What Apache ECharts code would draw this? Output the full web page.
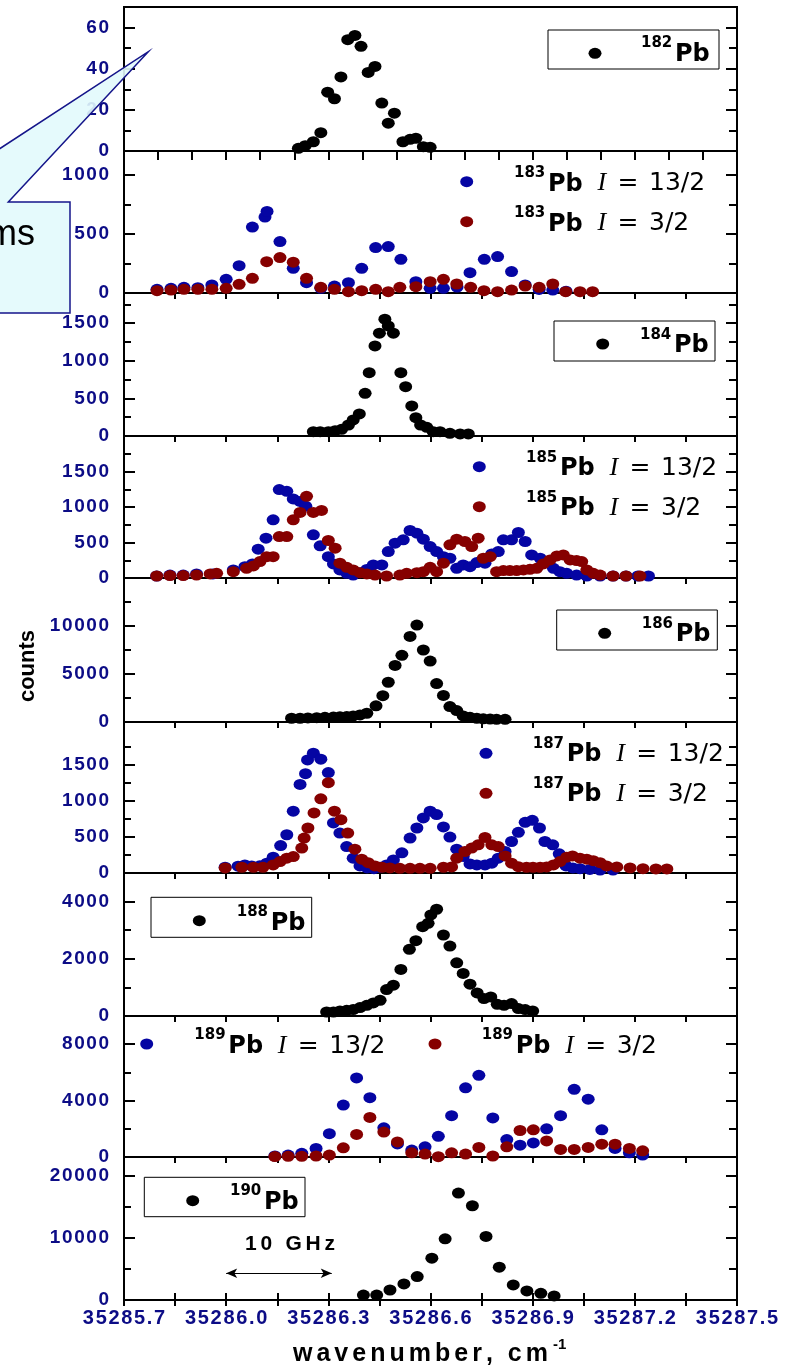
<!DOCTYPE html>
<html>
<head>
<meta charset="utf-8">
<script src="https://cdn.jsdelivr.net/npm/echarts@6/dist/echarts.min.js"></script>
<style>
  html, body { margin: 0; padding: 0; background: #fff; }
  #chart { width: 794px; height: 1368px; }
</style>
</head>
<body>
<div id="chart"></div>
<script>
// ---- shared wavenumber axis (cm^-1) ----
const xMin = 35285.7;
const xMax = 35287.5;
const xTickStep = 0.3;

// ---- 182Pb ----
const x182 = [35286.212, 35286.232, 35286.256, 35286.278, 35286.298, 35286.318, 35286.337, 35286.357, 35286.378, 35286.396,
              35286.417, 35286.437, 35286.457, 35286.476, 35286.494, 35286.519, 35286.540, 35286.557, 35286.579, 35286.599];
const y182 = [1.3, 2.6, 4.5, 8.9, 28.6, 25.4, 36, 54.1, 56.2, 50.9, 38.2, 41.1, 23.3, 13.5, 18.4, 4.5, 5.7, 6.2, 2.1, 1.8];

// ---- 183Pb, I = 13/2 (blue) and I = 3/2 (red) ----
const x183a = [35285.797, 35285.838, 35285.876, 35285.917, 35285.958, 35286.000, 35286.038, 35286.077, 35286.114, 35286.120,
               35286.158, 35286.197, 35286.236, 35286.278, 35286.318, 35286.359, 35286.398, 35286.439, 35286.476, 35286.513,
               35286.557, 35286.599, 35286.638, 35286.678, 35286.716, 35286.758, 35286.797, 35286.838, 35286.878, 35286.919,
               35286.959, 35286.998];
const y183a = [31, 40, 48, 45, 68, 116, 231, 557, 642, 689, 435, 209, 87, 40, 59, 87, 209, 384, 392, 285,
               96, 40, 40, 50, 172, 285, 308, 181, 68, 30, 25, 15];
const x183b = [35285.797, 35285.838, 35285.876, 35285.917, 35285.958, 35286.000, 35286.038, 35286.077, 35286.119, 35286.158,
               35286.197, 35286.236, 35286.278, 35286.318, 35286.359, 35286.398, 35286.439, 35286.476, 35286.510, 35286.557,
               35286.599, 35286.638, 35286.677, 35286.718, 35286.757, 35286.797, 35286.838, 35286.878, 35286.919, 35286.959,
               35286.997, 35287.039, 35287.076];
const y183b = [20, 25, 31, 31, 31, 40, 73, 124, 265, 299, 260, 124, 48, 31, 11, 20, 31, 11, 48, 53,
               96, 116, 76, 48, 20, 11, 25, 59, 48, 76, 11, 11, 11];

// ---- 184Pb ----
const x184 = [35286.256, 35286.276, 35286.300, 35286.320, 35286.339, 35286.359, 35286.373, 35286.391, 35286.408, 35286.420,
              35286.437, 35286.450, 35286.466, 35286.476, 35286.491, 35286.513, 35286.527, 35286.545, 35286.557, 35286.571,
              35286.589, 35286.608, 35286.628, 35286.657, 35286.687, 35286.711];
const y184 = [57, 57, 57, 71, 89, 146, 213, 293, 567, 842, 1197, 1366, 1552, 1463, 1366, 842, 656, 399, 243, 146,
              116, 57, 57, 36, 27, 27];

// ---- 185Pb ----
const x185a = [35285.796, 35285.835, 35285.874, 35285.913, 35285.961, 35286.021, 35286.055, 35286.077, 35286.094, 35286.117,
               35286.138, 35286.156, 35286.178, 35286.197, 35286.217, 35286.234, 35286.256, 35286.276, 35286.300, 35286.315,
               35286.334, 35286.354, 35286.373, 35286.393, 35286.413, 35286.432, 35286.457, 35286.476, 35286.496, 35286.520,
               35286.540, 35286.560, 35286.579, 35286.599, 35286.618, 35286.638, 35286.657, 35286.677, 35286.696, 35286.716,
               35286.736, 35286.760, 35286.780, 35286.799, 35286.814, 35286.838, 35286.858, 35286.878, 35286.897, 35286.922,
               35286.941, 35286.961, 35286.980, 35287.000, 35287.029, 35287.059, 35287.098, 35287.136, 35287.174, 35287.209,
               35287.240];
const y185a = [28, 42, 42, 57, 57, 113, 160, 198, 406, 561, 820, 1245, 1221, 1113, 1079, 1009, 608, 453, 301, 198,
               113, 66, 42, 75, 120, 184, 184, 372, 491, 537, 669, 632, 547, 443, 372, 300, 278, 137, 184, 160,
               217, 208, 339, 372, 537, 537, 641, 514, 325, 278, 231, 137, 89, 66, 42, 28, 28, 28, 28, 28,
               28];
const x185b = [35285.796, 35285.835, 35285.874, 35285.913, 35285.953, 35285.972, 35286.021, 35286.060, 35286.080, 35286.099,
               35286.119, 35286.138, 35286.156, 35286.178, 35286.197, 35286.217, 35286.236, 35286.256, 35286.280, 35286.300,
               35286.320, 35286.334, 35286.354, 35286.373, 35286.393, 35286.413, 35286.437, 35286.471, 35286.510, 35286.530,
               35286.560, 35286.579, 35286.599, 35286.618, 35286.638, 35286.657, 35286.677, 35286.701, 35286.721, 35286.740,
               35286.755, 35286.775, 35286.794, 35286.814, 35286.833, 35286.853, 35286.873, 35286.892, 35286.912, 35286.931,
               35286.951, 35286.971, 35286.990, 35287.010, 35287.029, 35287.044, 35287.059, 35287.078, 35287.098, 35287.136,
               35287.174, 35287.215];
const y185b = [28, 35, 35, 42, 57, 66, 89, 137, 170, 231, 301, 301, 584, 584, 820, 924, 1150, 924, 952, 528,
               420, 208, 151, 113, 75, 57, 42, 28, 42, 66, 75, 89, 151, 89, 208, 467, 547, 514, 443, 561,
               278, 301, 89, 104, 104, 104, 113, 122, 137, 198, 255, 311, 325, 255, 245, 231, 113, 66, 42, 28,
               28, 28];

// ---- 186Pb ----
const x186 = [35286.192, 35286.217, 35286.240, 35286.266, 35286.290, 35286.315, 35286.334, 35286.354, 35286.373, 35286.393,
              35286.413, 35286.440, 35286.460, 35286.476, 35286.496, 35286.516, 35286.540, 35286.560, 35286.579, 35286.599,
              35286.618, 35286.638, 35286.657, 35286.677, 35286.696, 35286.716, 35286.736, 35286.755, 35286.775, 35286.794,
              35286.819];
const y186 = [390, 390, 420, 450, 490, 510, 540, 560, 630, 740, 910, 1680, 2740, 4140, 5890, 6950, 8910, 10100, 7500, 6350,
              4000, 2770, 1610, 1190, 630, 490, 390, 330, 300, 280, 280];

// ---- 187Pb ----
const x187a = [35285.997, 35286.035, 35286.055, 35286.075, 35286.099, 35286.119, 35286.138, 35286.160, 35286.178, 35286.197,
               35286.217, 35286.233, 35286.239, 35286.256, 35286.278, 35286.300, 35286.315, 35286.334, 35286.354, 35286.373,
               35286.393, 35286.414, 35286.434, 35286.452, 35286.471, 35286.491, 35286.516, 35286.540, 35286.560, 35286.579,
               35286.599, 35286.618, 35286.638, 35286.657, 35286.677, 35286.696, 35286.716, 35286.736, 35286.760, 35286.780,
               35286.799, 35286.819, 35286.838, 35286.858, 35286.878, 35286.899, 35286.920, 35286.936, 35286.959, 35286.978,
               35286.998, 35287.018, 35287.039, 35287.068, 35287.098, 35287.136];
const y187a = [80, 95, 112, 98, 100, 136, 220, 382, 532, 859, 1232, 1382, 1573, 1667, 1583, 1396, 696, 556, 368, 206,
               98, 70, 60, 80, 112, 182, 280, 486, 626, 766, 859, 812, 640, 500, 332, 230, 126, 112, 112, 136,
               206, 300, 438, 565, 705, 733, 626, 438, 392, 266, 98, 70, 60, 50, 40, 40];
const x187b = [35285.997, 35286.046, 35286.080, 35286.108, 35286.138, 35286.158, 35286.178, 35286.197, 35286.222, 35286.229,
               35286.240, 35286.258, 35286.278, 35286.300, 35286.318, 35286.337, 35286.357, 35286.378, 35286.398, 35286.417,
               35286.437, 35286.457, 35286.481, 35286.510, 35286.540, 35286.569, 35286.599, 35286.638, 35286.662, 35286.677,
               35286.701, 35286.721, 35286.740, 35286.760, 35286.780, 35286.799, 35286.819, 35286.838, 35286.858, 35286.882,
               35286.901, 35286.922, 35286.941, 35286.961, 35286.980, 35287.000, 35287.017, 35287.039, 35287.059, 35287.078,
               35287.098, 35287.117, 35287.147, 35287.186, 35287.224, 35287.262, 35287.294];
const y187b = [70, 80, 80, 80, 112, 159, 206, 229, 346, 486, 626, 836, 1032, 1256, 859, 742, 556, 332, 192, 144,
               98, 80, 70, 65, 65, 65, 65, 80, 84, 206, 299, 346, 392, 495, 392, 368, 238, 136, 88, 80,
               80, 80, 84, 112, 159, 220, 238, 206, 192, 172, 144, 98, 84, 70, 60, 56, 56];

// ---- 188Pb ----
const x188 = [35286.295, 35286.315, 35286.334, 35286.354, 35286.373, 35286.393, 35286.413, 35286.432, 35286.452, 35286.471,
              35286.491, 35286.513, 35286.538, 35286.557, 35286.577, 35286.593, 35286.601, 35286.618, 35286.638, 35286.657,
              35286.677, 35286.696, 35286.716, 35286.737, 35286.757, 35286.777, 35286.796, 35286.816, 35286.838, 35286.858,
              35286.878, 35286.900];
const y188 = [140, 140, 175, 200, 225, 295, 375, 456, 550, 926, 1077, 1628, 2330, 2632, 3123, 3242, 3533, 3733, 2832, 2446,
              1860, 1488, 1112, 807, 610, 667, 410, 375, 435, 260, 225, 175];

// ---- 189Pb (both spin states measured at the same wavenumbers) ----
const x189 = [35286.143, 35286.182, 35286.222, 35286.264, 35286.303, 35286.344, 35286.383, 35286.422, 35286.463, 35286.503,
              35286.545, 35286.584, 35286.623, 35286.662, 35286.703, 35286.742, 35286.783, 35286.824, 35286.863, 35286.902,
              35286.941, 35286.982, 35287.022, 35287.063, 35287.103, 35287.142, 35287.184, 35287.223];
const y189a = [70, 140, 260, 610, 1650, 3680, 5610, 4210, 2070, 930, 490, 720, 1470, 2930, 4910, 5790, 2770, 1240, 840, 1000,
               2000, 2930, 4800, 4100, 1930, 610, 300, 140];
const y189b = [30, 50, 50, 70, 140, 650, 1600, 2810, 1770, 1070, 300, 210, 20, 300, 210, 680, 70, 720, 1880, 1930,
               1140, 540, 540, 680, 910, 910, 610, 440];

// ---- 190Pb ----
const x190 = [35286.403, 35286.442, 35286.481, 35286.522, 35286.561, 35286.604, 35286.643, 35286.682, 35286.723, 35286.763,
              35286.802, 35286.843, 35286.883, 35286.924, 35286.963];
const y190 = [800, 800, 1610, 2580, 3760, 6720, 9840, 17200, 15160, 10220, 5270, 2420, 1450, 1080, 650];

// ---- count axes: range, labelled ticks and minor ticks, one entry per panel ----
const yMax = [70, 1200, 1900, 2000, 15000, 2100, 5000, 10000, 23000];
const yMajor = [[0, 20, 40, 60], [0, 500, 1000], [0, 500, 1000, 1500], [0, 500, 1000, 1500], [0, 5000, 10000],
                [0, 500, 1000, 1500], [0, 2000, 4000], [0, 4000, 8000], [0, 10000, 20000]];
const yMinor = [[10, 30, 50], [250, 750], [250, 750, 1250, 1750], [250, 750, 1250, 1750], [2500, 7500, 12500],
                [250, 750, 1250, 1750], [1000, 3000], [2000, 6000], [5000, 15000]];

// spacing of the tick marks along each panel's top edge
const topTickStep = [0.1, 0.15, 0.15, 0.15, 0.15, 0.15, 0.15, 0.15, 0.15];

// 10 GHz scale bar (start, end in cm^-1, height in counts of the 190Pb panel)
const scaleBar = [35286.0, 35286.31, 4300];

const massNumbers = ['182', '183', '184', '185', '186', '187', '188', '189', '190'];
const spins = ['13/2', '3/2'];

// ---- layout (pixels) ----
const panelTop    = [7, 151, 293, 436, 578, 722, 873, 1016, 1157];
const panelBottom = [151, 293, 436, 578, 722, 873, 1016, 1157, 1300];
const plotLeft = 124, plotRight = 57;

const BLACK = '#000000', BLUE = '#0505a3', RED = '#860000', NAVY = '#0c0c86';
const SANS = '"Liberation Sans", Arial, sans-serif';
const WIDE = '"DejaVu Sans", Verdana, sans-serif';
const ELLIPSE = 'path://M0,5.5A6.5,5.5,0,1,0,13,5.5A6.5,5.5,0,1,0,0,5.5Z';
const HAIR = '\u200A';   // hair space, used to open up the tick numbers slightly

const zip = (xs, ys) => xs.map((x, i) => [x, ys[i]]);
const airy = s => Array.from(s).join(HAIR);

// ---- grids and axes ----
const grid = [], xAxis = [], yAxis = [];
const tickLine = { color: BLACK, width: 2 };
for (let i = 0; i < 9; i++) {
  grid.push({
    left: plotLeft, right: plotRight, top: panelTop[i], height: panelBottom[i] - panelTop[i],
    show: true, borderColor: BLACK, borderWidth: 2, backgroundColor: 'transparent'
  });
}
// bottom wavenumber axes (only the last panel shows ticks and labels)
for (let i = 0; i < 9; i++) {
  const last = i === 8;
  xAxis.push({
    type: 'value', gridIndex: i, min: xMin, max: xMax, interval: xTickStep, position: 'bottom',
    show: last,
    axisLine: { show: false },
    splitLine: { show: false },
    axisTick: { show: last, inside: true, length: 7, lineStyle: tickLine },
    minorTick: { show: last, splitNumber: 2, length: 7, lineStyle: tickLine },
    axisLabel: {
      show: last, margin: 8, color: NAVY, fontFamily: SANS, fontWeight: 'bold', fontSize: 20,
      formatter: v => airy(v.toFixed(1))
    }
  });
}
// top edge tick marks
for (let i = 0; i < 9; i++) {
  xAxis.push({
    type: 'value', gridIndex: i, min: xMin, max: xMax, interval: topTickStep[i], position: 'top',
    axisLine: { show: false }, splitLine: { show: false }, axisLabel: { show: false },
    axisTick: { show: true, inside: true, length: i === 0 ? 9 : 6, lineStyle: tickLine }
  });
}
// count axes: left labelled ticks, left minor ticks, right ticks, right minor ticks
for (let i = 0; i < 9; i++) {
  yAxis.push({
    type: 'value', gridIndex: i, min: 0, max: yMax[i], position: 'left',
    axisLine: { show: false }, splitLine: { show: false },
    axisTick: { show: true, inside: true, length: 11, customValues: yMajor[i], lineStyle: tickLine },
    axisLabel: {
      show: true, customValues: yMajor[i], margin: 15, color: NAVY,
      fontFamily: SANS, fontWeight: 'bold', fontSize: 19, formatter: v => airy(String(v))
    }
  });
}
for (let i = 0; i < 9; i++) {
  yAxis.push({
    type: 'value', gridIndex: i, min: 0, max: yMax[i], position: 'left',
    axisLine: { show: false }, splitLine: { show: false }, axisLabel: { show: false },
    axisTick: { show: true, inside: true, length: 7, customValues: yMinor[i], lineStyle: tickLine }
  });
}
for (let i = 0; i < 9; i++) {
  yAxis.push({
    type: 'value', gridIndex: i, min: 0, max: yMax[i], position: 'right',
    axisLine: { show: false }, splitLine: { show: false }, axisLabel: { show: false },
    axisTick: { show: true, inside: true, length: 11, customValues: yMajor[i], lineStyle: tickLine }
  });
}
for (let i = 0; i < 9; i++) {
  yAxis.push({
    type: 'value', gridIndex: i, min: 0, max: yMax[i], position: 'right',
    axisLine: { show: false }, splitLine: { show: false }, axisLabel: { show: false },
    axisTick: { show: true, inside: true, length: 8, customValues: yMinor[i], lineStyle: tickLine }
  });
}

// ---- scatter series ----
function dots(name, panel, xs, ys, color, extra) {
  return Object.assign({
    name, type: 'scatter', xAxisIndex: panel, yAxisIndex: panel,
    symbol: ELLIPSE, symbolSize: [13, 11],
    itemStyle: { color, opacity: 1 },
    data: zip(xs, ys), silent: true, z: 3
  }, extra || {});
}
const series = [
  dots('182Pb', 0, x182, y182, BLACK),
  dots('183Pb I=13/2', 1, x183a, y183a, BLUE),
  dots('183Pb I=3/2', 1, x183b, y183b, RED),
  dots('184Pb', 2, x184, y184, BLACK),
  dots('185Pb I=13/2', 3, x185a, y185a, BLUE),
  dots('185Pb I=3/2', 3, x185b, y185b, RED),
  dots('186Pb', 4, x186, y186, BLACK),
  dots('187Pb I=13/2', 5, x187a, y187a, BLUE),
  dots('187Pb I=3/2', 5, x187b, y187b, RED),
  dots('188Pb', 6, x188, y188, BLACK),
  dots('189Pb I=13/2', 7, x189, y189a, BLUE),
  dots('189Pb I=3/2', 7, x189, y189b, RED),
  dots('190Pb', 8, x190, y190, BLACK, {
    markLine: {
      silent: true, symbol: ['arrow', 'arrow'], symbolSize: [7, 11],
      label: { show: false },
      lineStyle: { color: BLACK, width: 1.2, type: 'solid' },
      data: [[{ coord: [scaleBar[0], scaleBar[2]] }, { coord: [scaleBar[1], scaleBar[2]] }]]
    }
  })
];

// ---- annotations: legends, callout, axis titles ----
const measure = document.createElement('canvas').getContext('2d');
function label(text, x, baseline, size, font, align, extra) {
  return Object.assign({
    type: 'text', x, y: baseline - 0.35 * size, z: 101,
    style: { text, font, fill: BLACK, align: align || 'left', verticalAlign: 'middle' }
  }, extra || {});
}
function spaced(text, left, right, baseline, size, font) {
  measure.font = font;
  const chars = Array.from(text);
  const widths = chars.map(c => measure.measureText(c).width);
  const natural = widths.reduce((a, b) => a + b, 0);
  const gap = (right - left - natural) / (chars.length - 1);
  const out = [];
  let x = left;
  chars.forEach((c, k) => { out.push(label(c, x, baseline, size, font)); x += widths[k] + gap; });
  return out;
}
function marker(cx, cy, color) {
  return { type: 'circle', x: cx, y: cy, scaleX: 13 / 11, z: 101, shape: { cx: 0, cy: 0, r: 5.5 }, style: { fill: color } };
}
function frame(x0, y0, x1, y1) {
  return { type: 'rect', z: 100, shape: { x: x0, y: y0, width: x1 - x0, height: y1 - y0 }, style: { fill: '#fff', stroke: BLACK, lineWidth: 1 } };
}
function isotope(x, baseline, mass, spin) {
  const out = [
    label(mass, x, baseline - 14.4, 15, 'bold 15px ' + WIDE),
    label('Pb', x + 34, baseline, 24, 'bold 24px ' + WIDE)
  ];
  if (spin) {
    out.push(label('I', x + 83.5, baseline, 26, 'italic 26px "Liberation Serif", serif'));
    out.push(label('=', x + 103.5, baseline, 25, '25px ' + WIDE));
    out.push(label(spin, x + 135, baseline, 25, '25px ' + WIDE));
  }
  return out;
}

const graphics = [].concat(
  // 182Pb
  [frame(548, 30, 719, 69), marker(595, 53.3, BLACK)], isotope(641, 62.7, massNumbers[0]),
  // 183Pb
  [marker(466.7, 181.7, BLUE)], isotope(514, 192.7, massNumbers[1], spins[0]),
  [marker(466.7, 221.7, RED)], isotope(514, 232.7, massNumbers[1], spins[1]),
  // 184Pb
  [frame(554, 321, 715, 361), marker(602.7, 344, BLACK)], isotope(640, 354.3, massNumbers[2]),
  // 185Pb
  [marker(479.3, 466.7, BLUE)], isotope(526, 477.3, massNumbers[3], spins[0]),
  [marker(479.3, 506.7, RED)], isotope(526, 517.3, massNumbers[3], spins[1]),
  // 186Pb
  [frame(556.7, 610, 717.3, 650), marker(604.7, 633.3, BLACK)], isotope(641.7, 643.3, massNumbers[4]),
  // 187Pb
  [marker(486, 753.3, BLUE)], isotope(532.7, 763.3, massNumbers[5], spins[0]),
  [marker(486, 793.3, RED)], isotope(532.7, 803.3, massNumbers[5], spins[1]),
  // 188Pb
  [frame(151, 897.3, 311.7, 937.3), marker(199.3, 920.7, BLACK)], isotope(236.7, 931.7, massNumbers[6]),
  // 189Pb
  [marker(146.7, 1044, BLUE)], isotope(194.3, 1055, massNumbers[7], spins[0]),
  [marker(435, 1044, RED)], isotope(481.7, 1055, massNumbers[7], spins[1]),
  // 190Pb
  [frame(144.3, 1177.3, 305, 1216.7), marker(192.7, 1200.7, BLACK)], isotope(230, 1211, massNumbers[8]),
  // scale bar caption
  spaced('10 GHz', 245, 335, 1251.7, 21, 'bold 21px ' + SANS),
  // axis titles
  spaced('wavenumber, cm', 293, 548, 1363, 25, 'bold 25px ' + SANS),
  [label('-1', 553, 1350, 15, 'bold 15px ' + SANS)],
  [{
    type: 'text', x: 28, y: 666, rotation: Math.PI / 2, z: 101,
    style: { text: 'counts', font: 'bold 22px ' + SANS, fill: BLACK, align: 'center', verticalAlign: 'middle' }
  }],
  // speech-bubble callout at the upper left
  [{
    type: 'polygon', z: 110,
    shape: { points: [[-130, 313], [-130, 202], [-82, 202], [148.3, 51.7], [8.3, 202], [70, 202], [70, 313]] },
    style: { fill: 'rgba(226, 250, 252, 0.9)', stroke: '#15158a', lineWidth: 1.5 }
  }],
  [label('ms', 35, 248, 36, '36px ' + SANS, 'right', { z: 111 })]
);

const chart = echarts.init(document.getElementById('chart'), null, { renderer: 'canvas' });
chart.setOption({
  animation: false,
  backgroundColor: '#ffffff',
  grid, xAxis, yAxis, series,
  graphic: { elements: graphics }
});
</script>
</body>
</html>
